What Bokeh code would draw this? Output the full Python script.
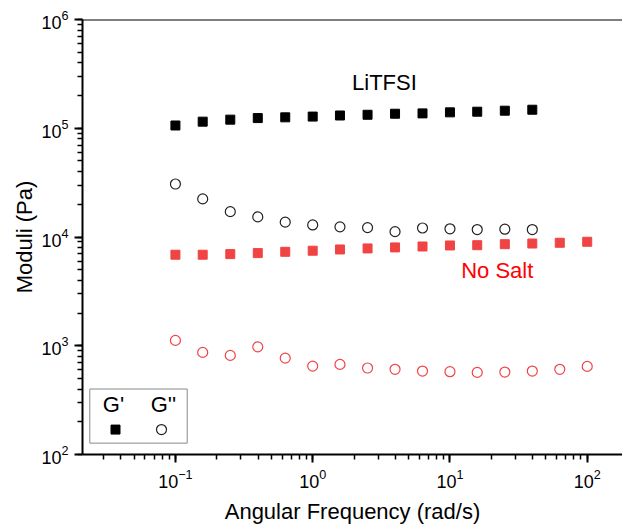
from bokeh.plotting import figure
from bokeh.models import Range1d, LinearScale, Label, BoxAnnotation, Span
from bokeh.embed import file_html
from bokeh.resources import INLINE

# ---- data ----
freq = [0.1, 0.158, 0.251, 0.398, 0.631, 1.0, 1.58, 2.51, 3.98, 6.31,
        10.0, 15.8, 25.1, 39.8, 63.1, 100.0]
litfsi_freq = freq[:14]
litfsi_gp = [1.06e5, 1.15e5, 1.20e5, 1.24e5, 1.26e5, 1.28e5, 1.31e5,
             1.33e5, 1.36e5, 1.37e5, 1.40e5, 1.42e5, 1.45e5, 1.48e5]
litfsi_gpp = [3.07e4, 2.24e4, 1.71e4, 1.53e4, 1.37e4, 1.29e4, 1.24e4,
              1.22e4, 1.12e4, 1.21e4, 1.19e4, 1.17e4, 1.18e4, 1.17e4]
nosalt_freq = freq
nosalt_gp = [6.87e3, 6.87e3, 6.96e3, 7.11e3, 7.31e3, 7.48e3, 7.68e3, 7.85e3,
             8.02e3, 8.18e3, 8.36e3, 8.41e3, 8.59e3, 8.71e3, 8.85e3, 9.04e3]
nosalt_gpp = [1120, 869, 815, 977, 769, 650, 674, 624, 607, 585, 577, 569,
              573, 585, 607, 646]

x_label = "Angular Frequency (rad/s)"
y_label = "Moduli (Pa)"
legend_labels = ["G'", "G''"]

FONT = "Liberation Sans"
RED = "#F04444"

FW, FH = 540, 436.4
Y_MIN, Y_MAX = 100, 1e6

p = figure(width=622, height=526, x_axis_type="log", y_axis_type="log",
           x_range=Range1d(0.02104, 180.7), y_range=Range1d(Y_MIN, Y_MAX),
           output_backend="svg", toolbar_location=None,
           min_border_left=82, min_border_right=0, min_border_top=19,
           min_border_bottom=70)
p.xgrid.visible = False
p.ygrid.visible = False
p.outline_line_color = None
p.background_fill_color = "white"
p.border_fill_color = "white"

for ax in (p.below[0], p.left[0]):
    ax.axis_line_width = 2
    ax.axis_line_color = "black"
    ax.major_tick_line_color = "black"
    ax.minor_tick_line_color = "black"
    ax.major_tick_line_width = 2
    ax.minor_tick_line_width = 1.5
    ax.major_tick_in = 0
    ax.major_tick_out = 8
    ax.minor_tick_in = 0
    ax.minor_tick_out = 5
    ax.major_label_text_font = FONT
    ax.major_label_text_font_size = "18px"
    ax.major_label_text_color = "black"
    ax.axis_label_text_font = FONT
    ax.axis_label_text_font_size = "22px"
    ax.axis_label_text_font_style = "normal"
    ax.axis_label_text_color = "black"
p.below[0].axis_label = x_label
p.left[0].axis_label = y_label
p.below[0].major_label_standoff = 6
p.left[0].major_label_standoff = 6
p.below[0].axis_label_standoff = 8
p.left[0].axis_label_standoff = 1

# top frame line
p.add_layout(Span(location=Y_MAX, dimension="width", line_color="black",
                  line_width=2))

# ---- data marks ----
p.scatter(litfsi_freq, litfsi_gp, marker="square", size=9,
          fill_color="black", line_color="black")
p.scatter(litfsi_freq, litfsi_gpp, marker="circle", size=10,
          fill_color=None, line_color="#222222", line_width=1.2)
p.scatter(nosalt_freq, nosalt_gp, marker="square", size=9,
          fill_color=RED, line_color=RED)
p.scatter(nosalt_freq, nosalt_gpp, marker="circle", size=10,
          fill_color=None, line_color=RED, line_width=1.2)

p.add_layout(Label(x=3.33, y=2.62e5, text="LiTFSI", text_align="center",
                   text_baseline="middle", text_font=FONT,
                   text_font_size="22px", text_color="black"))
p.add_layout(Label(x=22.1, y=4.97e3, text="No Salt", text_align="center",
                   text_baseline="middle", text_font=FONT,
                   text_font_size="22px", text_color="#FF0000"))

# ---- custom legend (frame pixel coordinates) ----
p.extra_x_ranges = {"px": Range1d(0, FW)}
p.extra_y_ranges = {"px": Range1d(FH, 0)}
p.extra_x_scales = {"px": LinearScale()}
p.extra_y_scales = {"px": LinearScale()}

p.add_layout(BoxAnnotation(left=7.3, right=104.7, top=370.7, bottom=425,
                           x_range_name="px", y_range_name="px",
                           fill_color="white", fill_alpha=1,
                           line_color="#888888", line_width=1,
                           line_alpha=1, level="underlay"))
for lx, lab in zip([31, 81], legend_labels):
    p.add_layout(Label(x=lx, y=386, text=lab, text_align="center",
                       text_baseline="middle", text_font=FONT,
                       text_font_size="22px", text_color="black",
                       x_range_name="px", y_range_name="px"))
p.scatter([33], [411.4], marker="square", size=9, fill_color="black",
          line_color="black", x_range_name="px", y_range_name="px")
p.scatter([79], [411.4], marker="circle", size=10, fill_color=None,
          line_color="#222222", line_width=1.2,
          x_range_name="px", y_range_name="px")

open("out.html", "w").write(file_html(p, INLINE))
